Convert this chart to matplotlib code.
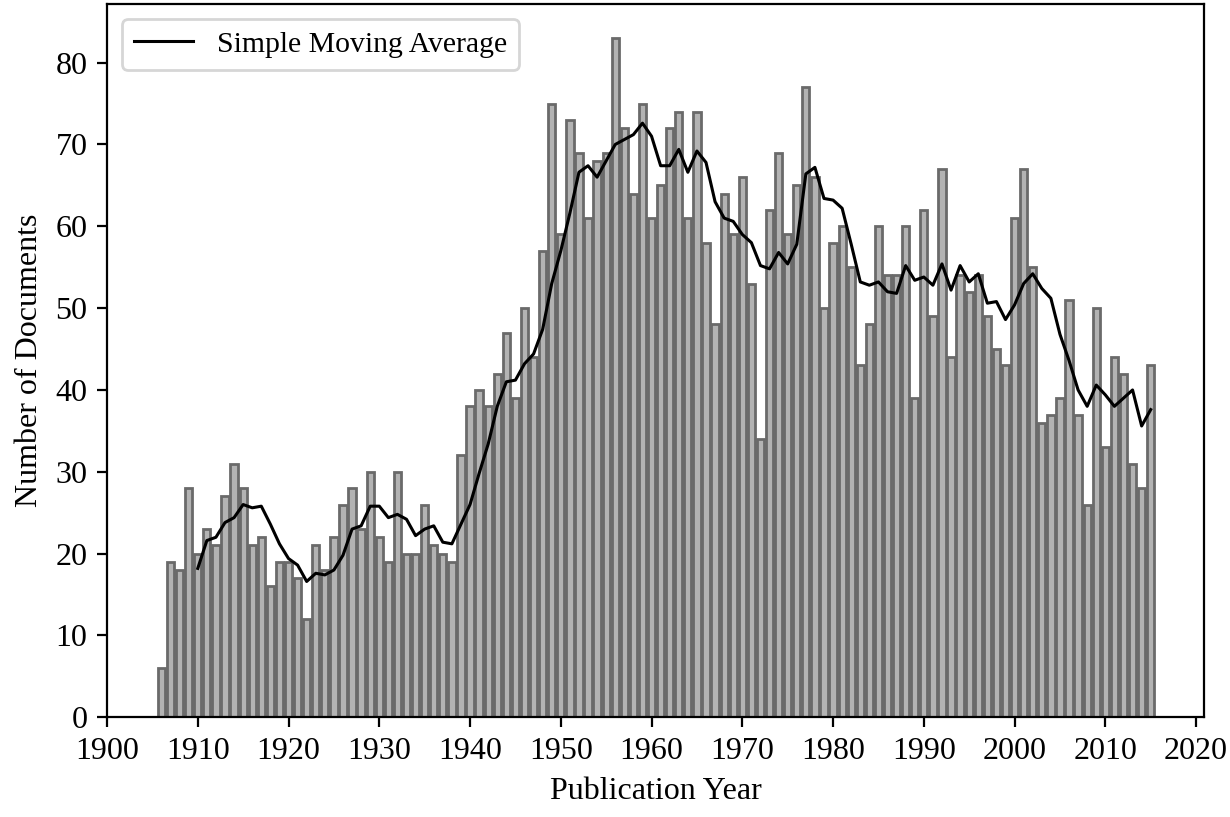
import numpy as np
import pandas as pd
import matplotlib
matplotlib.use("Agg")
import matplotlib.pyplot as plt

plt.rcParams['font.family'] = ['Liberation Serif', 'DejaVu Serif']
plt.rcParams['font.size'] = 11.5

# Documents per publication year, 1906-2015
years = list(range(1906, 2016))
documents = [
    6, 19, 18, 28,                              # 1906-1909
    20, 23, 21, 27, 31, 28, 21, 22, 16, 19,     # 1910s
    19, 17, 12, 21, 18, 22, 26, 28, 23, 30,     # 1920s
    22, 19, 30, 20, 20, 26, 21, 20, 19, 32,     # 1930s
    38, 40, 38, 42, 47, 39, 50, 44, 57, 75,     # 1940s
    59, 73, 69, 61, 68, 69, 83, 72, 64, 75,     # 1950s
    61, 65, 72, 74, 61, 74, 58, 48, 64, 59,     # 1960s
    66, 53, 34, 62, 69, 59, 65, 77, 66, 50,     # 1970s
    58, 60, 55, 43, 48, 60, 54, 54, 60, 39,     # 1980s
    62, 49, 67, 44, 54, 52, 54, 49, 45, 43,     # 1990s
    61, 67, 55, 36, 37, 39, 51, 37, 26, 50,     # 2000s
    33, 44, 42, 31, 28, 43,                     # 2010-2015
]
window = 5

df = pd.DataFrame({'year': years, 'docs': documents})
df['sma'] = df['docs'].rolling(window).mean()

fig, ax = plt.subplots(figsize=(6.15, 4.085), dpi=200)
fig.subplots_adjust(left=0.087, right=0.979, top=0.995, bottom=0.122)

ax.bar(df['year'], df['docs'], width=0.8, color='#b3b3b3',
       edgecolor='#6a6a6a', linewidth=1.0)
ax.plot(df['year'], df['sma'], color='black', linewidth=1.1,
        label='Simple Moving Average')

ax.set_xticks(np.arange(1900, 2021, 10))
ax.set_xlabel('Publication Year')
ax.set_ylabel('Number of Documents')
ax.legend(loc='upper left', fontsize=10.7)

fig.savefig('out.png', dpi=200)
